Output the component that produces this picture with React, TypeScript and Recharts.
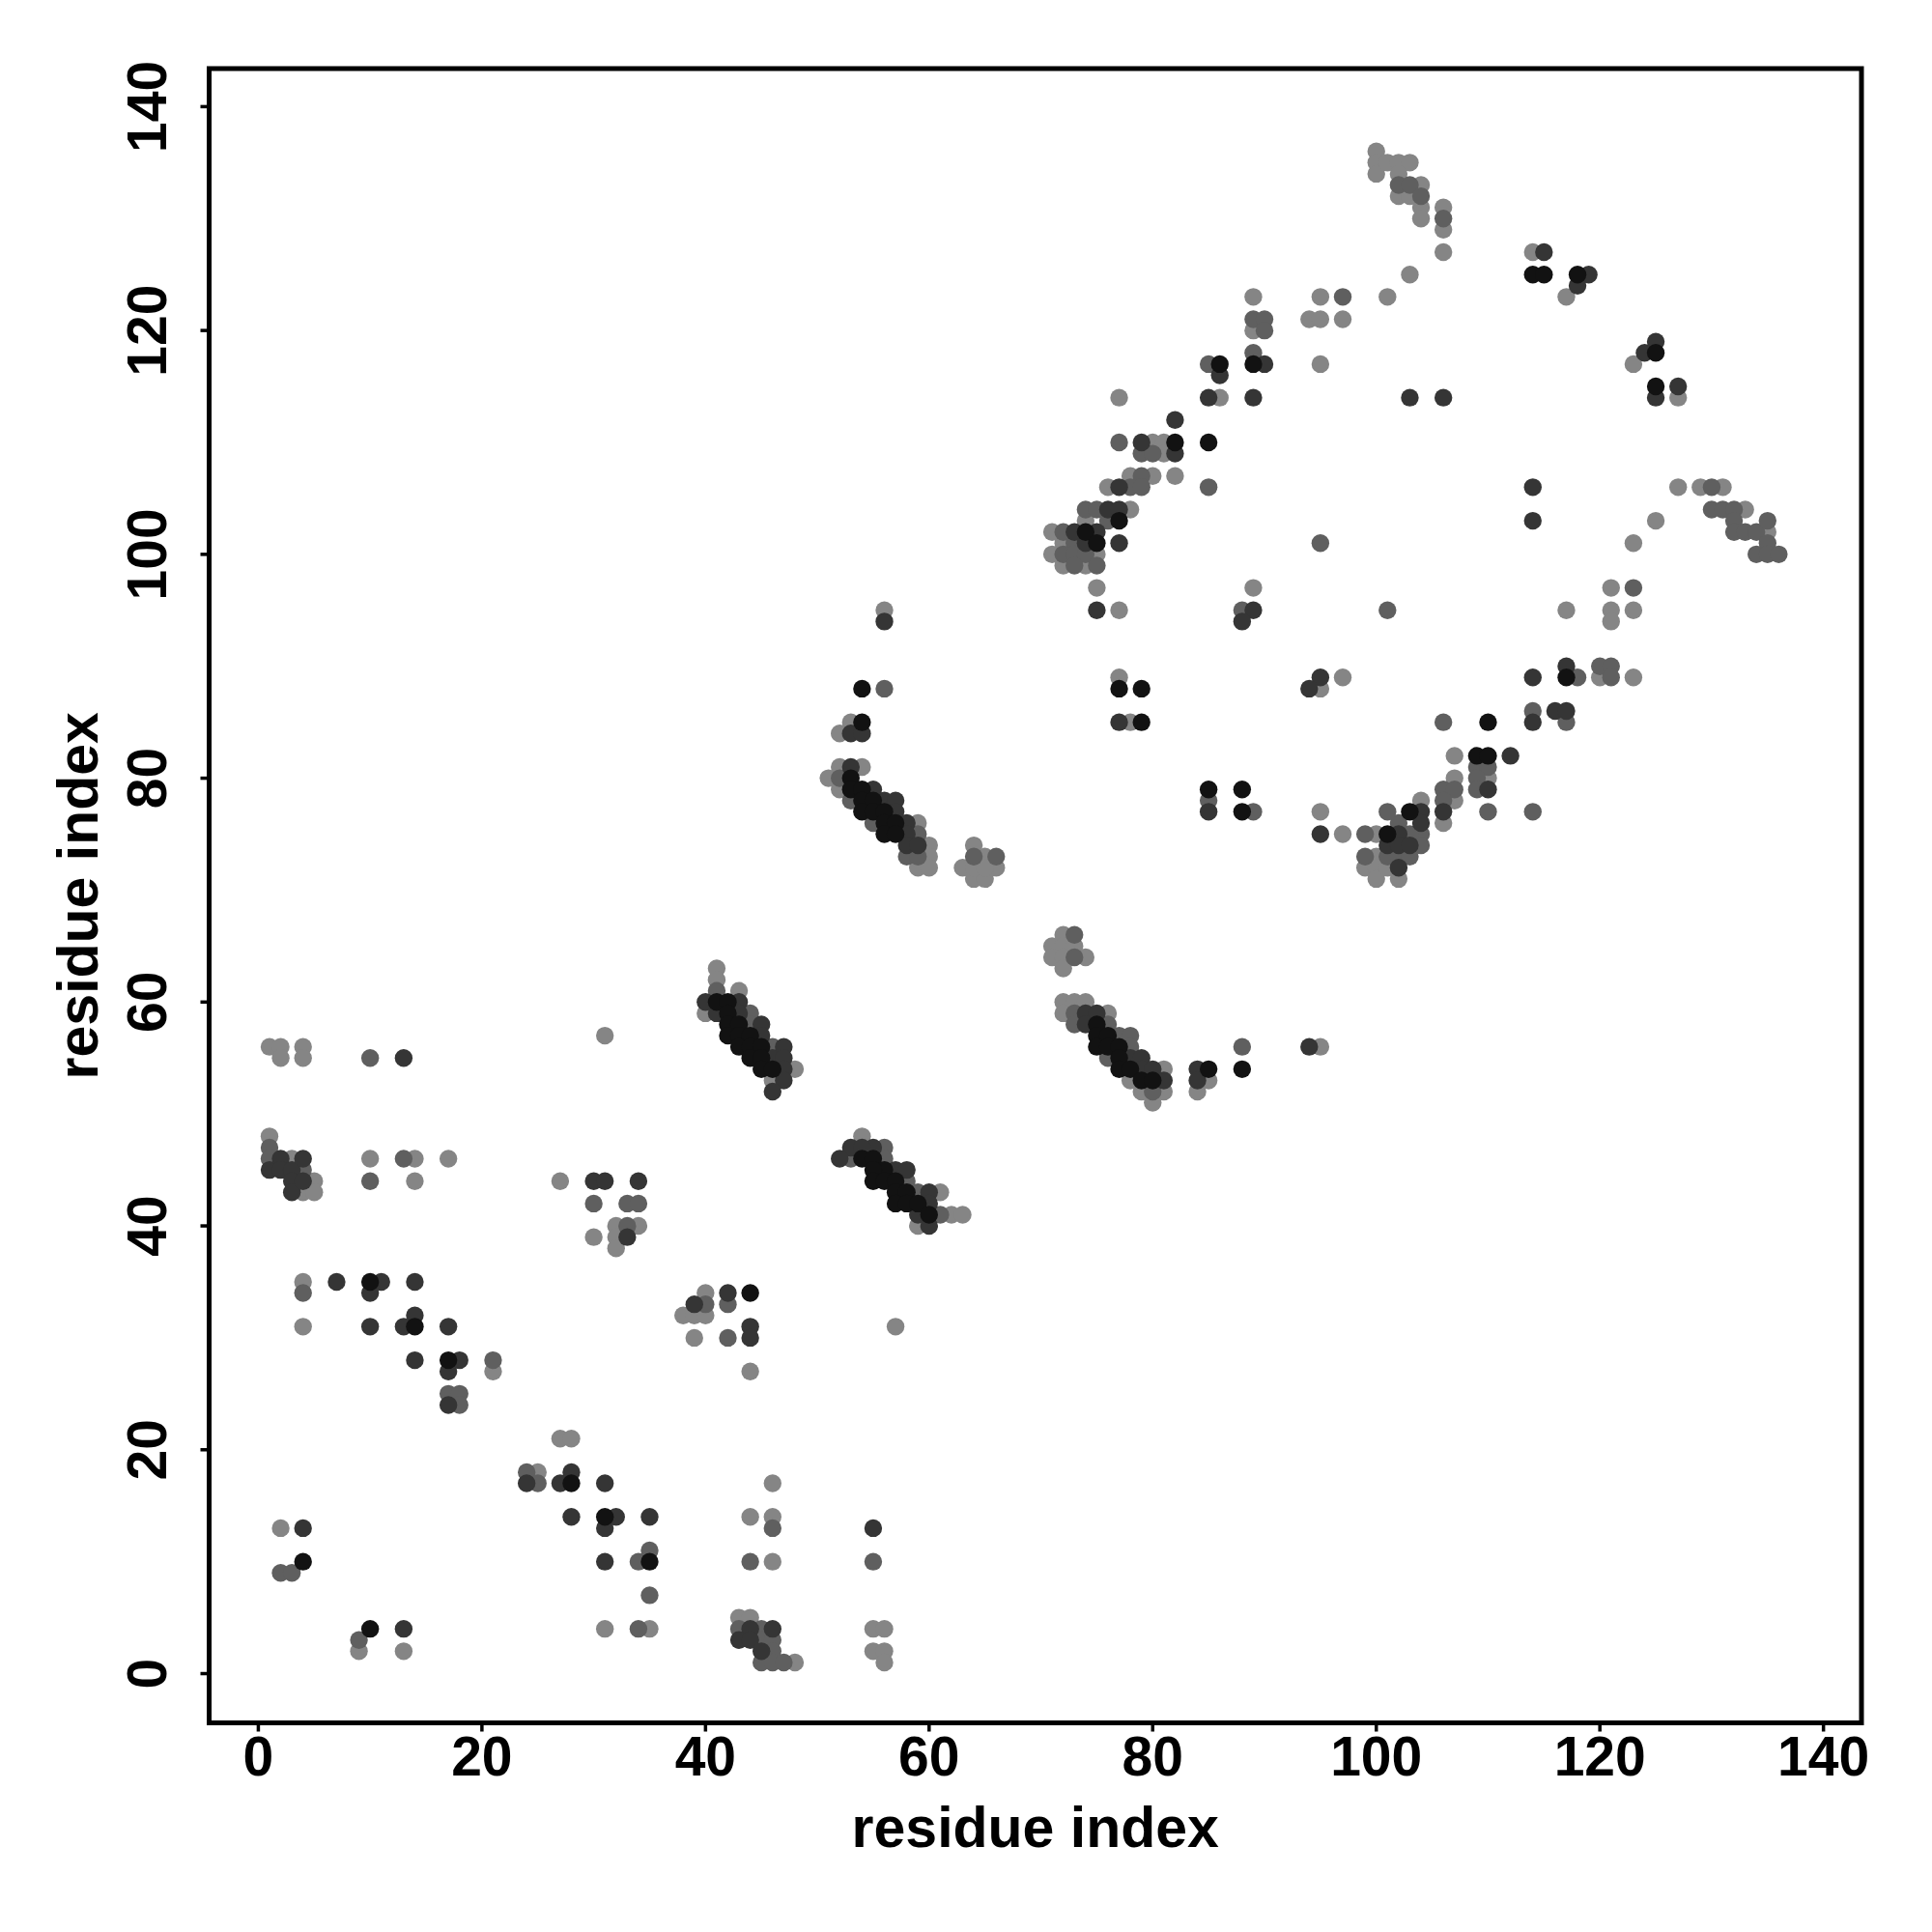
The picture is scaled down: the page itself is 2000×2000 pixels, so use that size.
import React from 'react';
import { ScatterChart, Scatter, XAxis, YAxis, ReferenceArea, Label } from 'recharts';

type P = [number, number];

// Contact points grouped by gray shade (x = residue index, y = residue index)
const lightPoints: P[] = [
  [1,56],[2,56],[2,55],[4,56],[4,55],[31,57],
  [1,48],[3,46],[4,43],[5,44],[5,43],[10,46],[14,46],[14,44],[17,46],[27,44],
  [30,39],[32,40],[34,40],[32,39],[32,38],
  [40,34],[38,32],[39,32],[40,32],[39,30],[44,27],[57,31],
  [4,35],[4,31],[21,27],[27,21],[28,21],[25,18],[46,17],[44,14],[46,14],
  [2,13],[46,10],[9,2],[13,2],[31,4],[35,4],[43,5],[44,5],[48,1],
  [55,4],[56,4],[55,2],[56,2],[56,1],
  [41,63],[41,62],[43,61],[40,59],[48,54],[46,53],
  [54,48],[61,43],[62,41],[63,41],[59,40],
  [56,95],[53,85],[52,84],[52,81],[54,81],[51,80],[52,79],[59,76],[60,74],[60,73],[59,72],[60,72],
  [64,74],[63,72],[65,73],[66,72],[64,71],[65,71],[64,72],[65,72],
  [75,97],[77,95],[77,89],[78,85],[95,77],[97,75],
  [72,66],[71,65],[72,65],[73,65],[71,64],[72,64],[74,64],[72,63],
  [72,60],[73,60],[74,60],[72,59],[76,59],[81,54],[78,53],[79,52],[81,52],[80,51],[85,53],[84,52],[95,56],
  [100,136],[100,135],[100,134],[101,135],[102,135],[103,135],[102,134],[102,132],[103,132],[104,133],[104,131],[104,130],
  [106,131],[106,129],[106,127],
  [101,123],[103,125],[95,123],[94,121],[95,121],[97,121],[95,117],[89,123],[89,120],[86,114],
  [77,114],[80,110],[81,110],[81,109],[78,107],[80,107],[82,107],[76,106],[78,104],[74,103],
  [71,102],[72,101],[71,100],[75,100],[72,99],[74,99],
  [114,127],[117,123],[123,117],[127,114],[127,106],[129,106],[131,106],[133,104],[135,102],[125,103],[123,101],
  [89,97],[117,95],[121,97],[121,95],[121,94],[123,95],[120,89],[123,89],[95,88],[97,89],
  [107,82],[110,80],[107,80],[107,78],[106,76],[104,78],[100,75],[99,72],[100,73],[100,72],[100,71],[101,72],[102,71]
];

const midPoints: P[] = [
  [10,55],[1,47],[1,46],[4,45],[10,44],[13,46],[33,42],[34,42],[30,42],[33,40],
  [40,33],[42,33],[42,30],[4,34],[21,28],[17,25],[18,25],[18,24],[24,18],[25,17],
  [46,13],[2,9],[3,9],[34,10],[35,11],[35,7],[44,10],[55,10],[9,3],[34,4],
  [43,4],[45,4],[45,3],[46,3],[46,2],[45,1],[46,1],[47,1],
  [41,61],[44,59],[44,58],[46,56],
  [53,46],[56,47],[56,46],[58,44],[59,43],[61,41],
  [56,88],[52,80],[53,78],[55,76],[59,75],[58,73],[59,73],[64,73],[66,73],
  [85,78],[89,77],[73,66],[73,64],
  [73,59],[73,58],[76,58],[77,57],[78,57],[78,56],[76,55],[80,52],[88,56],
  [102,133],[103,133],[104,132],[106,130],[97,123],[89,121],[90,121],[90,120],[89,118],[85,117],
  [77,110],[79,109],[80,109],[79,107],[78,106],[79,106],[85,106],[74,104],[75,104],[76,103],
  [72,102],[73,101],[72,100],[73,100],[74,100],[73,99],[75,99],[95,101],
  [130,106],[130,104],[131,104],[132,104],[132,103],[132,102],[133,102],[134,102],[135,103],[135,101],[134,100],[135,100],[136,100],
  [88,95],[101,95],[123,97],[120,90],[121,90],[121,89],[118,89],[114,86],[117,85],[106,85],
  [109,81],[110,81],[109,80],[109,79],[106,79],[107,79],[106,78],[110,77],[114,77],
  [104,75],[104,74],[102,76],[103,75],[101,77],[99,75],[99,73],[101,73],[102,73],[103,73]
];

const darkPoints: P[] = [
  [13,55],[1,45],[2,46],[2,45],[3,45],[3,44],[3,43],[4,46],[4,44],
  [30,44],[31,44],[34,44],[33,39],[39,33],[42,34],[44,31],[44,30],
  [7,35],[11,35],[10,34],[14,35],[10,31],[13,31],[14,32],[17,31],
  [14,28],[18,28],[17,27],[17,24],[24,17],[27,17],[28,18],[31,17],
  [28,14],[32,14],[31,13],[35,14],[55,13],[4,13],[31,10],[13,4],[44,4],[46,4],[43,3],[44,3],[45,2],
  [40,60],[41,59],[43,60],[43,59],[45,58],[45,57],[46,55],[47,56],[47,55],[47,54],[47,53],[46,52],
  [53,47],[52,46],[55,47],[54,47],[57,45],[58,45],[60,43],[60,42],[59,41],[60,40],
  [56,94],[53,84],[54,84],[53,81],[55,79],[56,78],[57,78],[57,77],[58,76],[58,75],[58,74],[59,74],
  [75,95],[77,85],[85,77],[95,75],
  [74,59],[75,59],[74,58],[78,55],[79,55],[79,54],[80,54],[81,53],[84,54],[84,53],[94,56],
  [90,117],[89,114],[86,116],[85,114],[103,114],[106,114],[82,112],[79,110],[82,109],
  [77,106],[76,104],[77,104],[73,102],[75,102],[77,101],[74,101],
  [115,127],[119,125],[118,124],[125,119],[124,118],[125,114],[127,115],[114,106],[114,103],
  [89,95],[88,94],[95,89],[94,88],[114,89],[117,90],[114,85],[116,86],[117,86],[112,82],[110,79],
  [106,77],[104,77],[104,76],[102,75],[101,74],[102,74],[102,72],[103,74]
];

const blackPoints: P[] = [
  [44,34],[10,35],[14,31],[17,28],[28,17],[31,14],[4,10],[35,10],[10,4],
  [41,60],[42,60],[42,59],[42,58],[43,58],[42,57],[43,57],[44,57],[43,56],[44,56],[45,56],
  [44,55],[45,55],[45,54],[46,54],
  [54,46],[55,46],[56,45],[55,45],[55,44],[56,44],[57,44],[57,43],[58,43],[57,42],[58,42],[59,42],[60,41],
  [54,88],[54,85],[53,80],[53,79],[54,79],[54,78],[55,78],[54,77],[55,77],[56,77],[56,76],[57,76],[56,75],[57,75],
  [77,88],[79,88],[79,85],[85,79],[88,79],[88,77],
  [75,58],[75,57],[76,57],[75,56],[76,56],[77,56],[77,55],[77,54],[78,54],[79,53],[80,53],[85,54],[88,54],
  [89,117],[86,117],[82,110],[85,110],[77,103],[74,102],[75,101],
  [114,125],[115,125],[118,125],[125,118],[125,115],
  [117,89],[110,85],[109,82],[110,82],[101,75],[103,77]
];

const xTicks = [0, 20, 40, 60, 80, 100, 120, 140];
const yTicks = [0, 20, 40, 60, 80, 100, 120, 140];
const domainMin = -4.4;
const domainMax = 143.4;

const shades = [
  { name: 'light', color: '#858585', points: lightPoints },
  { name: 'mid', color: '#5f5f5f', points: midPoints },
  { name: 'dark', color: '#353535', points: darkPoints },
  { name: 'black', color: '#121212', points: blackPoints },
];

const FONT = '"Liberation Sans", Arial, Helvetica, sans-serif';

const XTick = (props: any) => {
  const { x, y, payload } = props;
  return (
    <text x={x} y={y + 43.5} textAnchor="middle" fontSize={57} fontWeight="bold" fontFamily={FONT} fill="#000">
      {payload.value}
    </text>
  );
};

const YTick = (props: any) => {
  const { x, y, payload } = props;
  const bx = x - 33.5;
  return (
    <text x={bx} y={y} transform={`rotate(-90, ${bx}, ${y})`} textAnchor="middle" fontSize={57} fontWeight="bold" fontFamily={FONT} fill="#000">
      {payload.value}
    </text>
  );
};

const makeShape = (color: string) => (props: any) => (
  <circle cx={props.cx} cy={props.cy} r={9.2} fill={color} />
);

export default function App() {
  return (
    <div style={{ position: 'absolute', left: 0, top: 0, width: 2000, height: 2000, background: '#fff' }}>
      <ScatterChart width={2000} height={2000} margin={{ top: 71, right: 73, bottom: 0, left: 0 }}>
        <XAxis
          type="number"
          dataKey="x"
          domain={[domainMin, domainMax]}
          ticks={xTicks}
          allowDataOverflow
          axisLine={false}
          tickLine={{ stroke: '#000', strokeWidth: 3.5 }}
          tickSize={9}
          height={216.5}
          tick={<XTick />}
          interval={0}
        >
          <Label
            content={(p: any) => {
              const vb = p.viewBox || { x: 216.5, y: 1783.5, width: 1710.5, height: 216.5 };
              return (
                <text x={vb.x + vb.width / 2} y={vb.y + 128.5} textAnchor="middle" fontSize={59} fontWeight="bold" fontFamily={FONT} fill="#000">
                  residue index
                </text>
              );
            }}
          />
        </XAxis>
        <YAxis
          type="number"
          dataKey="y"
          domain={[domainMin, domainMax]}
          ticks={yTicks}
          allowDataOverflow
          axisLine={false}
          tickLine={{ stroke: '#000', strokeWidth: 3.5 }}
          tickSize={9}
          width={216.5}
          tick={<YTick />}
          interval={0}
        >
          <Label
            content={(p: any) => {
              const vb = p.viewBox || { x: 0, y: 71, width: 216.5, height: 1712.5 };
              const tx = vb.x + 101;
              const ty = vb.y + vb.height / 2;
              return (
                <text x={tx} y={ty} transform={`rotate(-90, ${tx}, ${ty})`} textAnchor="middle" fontSize={59} fontWeight="bold" fontFamily={FONT} fill="#000">
                  residue index
                </text>
              );
            }}
          />
        </YAxis>
        {shades.map((s) => (
          <Scatter
            key={s.name}
            name={s.name}
            data={s.points.map(([x, y]) => ({ x, y }))}
            fill={s.color}
            shape={makeShape(s.color)}
            isAnimationActive={false}
          />
        ))}
        <ReferenceArea
          x1={domainMin}
          x2={domainMax}
          y1={domainMin}
          y2={domainMax}
          fill="none"
          fillOpacity={0}
          stroke="#000"
          strokeWidth={5}
          strokeOpacity={1}
          ifOverflow="visible"
        />
      </ScatterChart>
    </div>
  );
}
